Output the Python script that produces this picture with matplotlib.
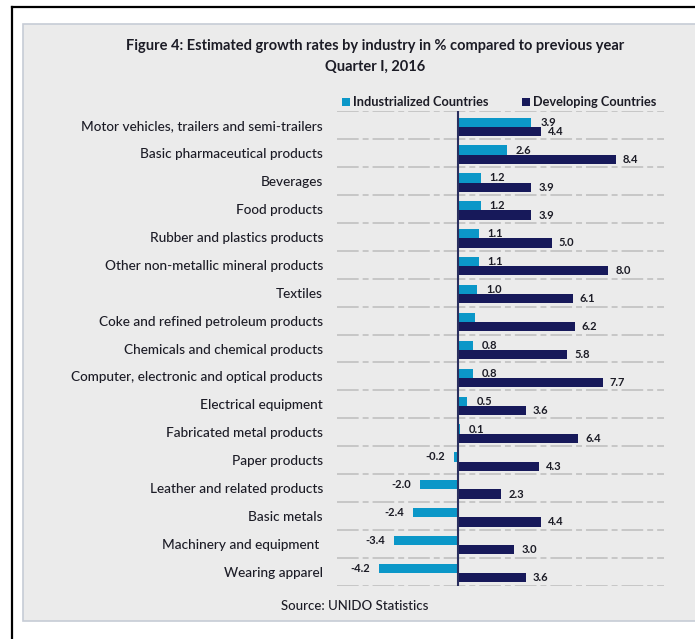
import matplotlib
matplotlib.use("Agg")
import matplotlib.pyplot as plt
from matplotlib.patches import Rectangle
from matplotlib.lines import Line2D

plt.rcParams['font.family'] = ['Lato', 'DejaVu Sans']

industries = [
    "Motor vehicles, trailers and semi-trailers",
    "Basic pharmaceutical products",
    "Beverages",
    "Food products",
    "Rubber and plastics products",
    "Other non-metallic mineral products",
    "Textiles",
    "Coke and refined petroleum products",
    "Chemicals and chemical products",
    "Computer, electronic and optical products",
    "Electrical equipment",
    "Fabricated metal products",
    "Paper products",
    "Leather and related products",
    "Basic metals",
    "Machinery and equipment ",
    "Wearing apparel",
]
industrialized = [3.9, 2.6, 1.2, 1.2, 1.1, 1.1, 1.0, 0.9, 0.8, 0.8, 0.5, 0.1,
                  -0.2, -2.0, -2.4, -3.4, -4.2]
developing = [4.4, 8.4, 3.9, 3.9, 5.0, 8.0, 6.1, 6.2, 5.8, 7.7, 3.6, 6.4,
              4.3, 2.3, 4.4, 3.0, 3.6]
# the coke row carries no label for the industrialized bar
industrialized_labels = [True] * 7 + [False] + [True] * 9

LIGHT = "#0b97c8"
NAVY = "#17195a"
PANEL = "#ebebeb"
TEXT = "#1c1c26"

fig = plt.figure(figsize=(6.95, 6.39), dpi=100)
W, H = 695, 639

def fx(px):
    return px / W

def fy(py):
    return 1 - py / H

# outer frame and grey panel
fig.add_artist(Line2D([fx(12), 1], [fy(7), fy(7)], color="black", lw=1.6))
fig.add_artist(Line2D([fx(12), fx(12)], [fy(7), 0], color="black", lw=1.6))
fig.add_artist(Rectangle((fx(23), fy(621)), 1 - fx(23) + 0.01, fy(24) - fy(621),
                         facecolor=PANEL, edgecolor="#c6ccd6", lw=1.2,
                         transform=fig.transFigure, zorder=0))

fig.text(fx(375), fy(46), "Figure 4: Estimated growth rates by industry in % compared to previous year",
         ha="center", va="center", fontsize=10.5, fontweight="bold", color=TEXT)
fig.text(fx(375), fy(67), "Quarter I, 2016", ha="center", va="center",
         fontsize=10.5, fontweight="bold", color=TEXT)
fig.text(fx(355), fy(606), "Source: UNIDO Statistics", ha="center", va="center",
         fontsize=9.5, fontweight="medium", color=TEXT)

ax = fig.add_axes([fx(337), fy(585.7), fx(664) - fx(337), fy(111.4) - fy(585.7)])
ax.set_facecolor("none")
ax.set_xlim(-6.44, 10.96)
n = len(industries)
ax.set_ylim(n - 0.5, -0.5)

h = 0.33
pos = list(range(n))
y_light = [p - 0.115 for p in pos]
y_navy = [p + 0.215 for p in pos]

for b in [p - 0.5 for p in pos] + [n - 0.5]:
    ax.axhline(b, color="#c4c4c4", lw=1.3, linestyle=(0, (12, 2.2, 3.3, 2.2)), zorder=1)

ax.barh(y_light, industrialized, height=h, color=LIGHT, zorder=3,
        label="Industrialized Countries")
ax.barh(y_navy, developing, height=h, color=NAVY, zorder=3,
        label="Developing Countries")
ax.axvline(0, color="#2a2f5e", lw=1.5, zorder=4)

for yv, v, show in zip(y_light, industrialized, industrialized_labels):
    if not show:
        continue
    if v >= 0:
        ax.annotate(f"{v:.1f}", (v, yv), xytext=(6.5, 0), textcoords="offset points",
                    ha="left", va="center", fontsize=8, fontweight="bold", color=TEXT, zorder=2)
    else:
        ax.annotate(f"{v:.1f}", (v, yv), xytext=(-6.5, 0), textcoords="offset points",
                    ha="right", va="center", fontsize=8, fontweight="bold", color=TEXT, zorder=2)
for yv, v in zip(y_navy, developing):
    ax.annotate(f"{v:.1f}", (v, yv), xytext=(5, 0), textcoords="offset points",
                ha="left", va="center", fontsize=8, fontweight="bold", color=TEXT, zorder=2)

ax.set_yticks(pos)
ax.set_yticklabels(industries, fontsize=9.8, fontweight="medium", color=TEXT)
ax.tick_params(axis="y", length=0, pad=10)
ax.set_xticks([])
for s in ax.spines.values():
    s.set_visible(False)

leg = fig.legend(handles=ax.get_legend_handles_labels()[0], ncol=2,
                 loc="center", bbox_to_anchor=(fx(499), fy(102.5)), frameon=False,
                 handlelength=0.65, handleheight=0.65, handletextpad=0.2,
                 columnspacing=2.6, prop={"weight": "bold", "size": 9.2})
for t in leg.get_texts():
    t.set_color(TEXT)

fig.savefig("out.png", dpi=100)
